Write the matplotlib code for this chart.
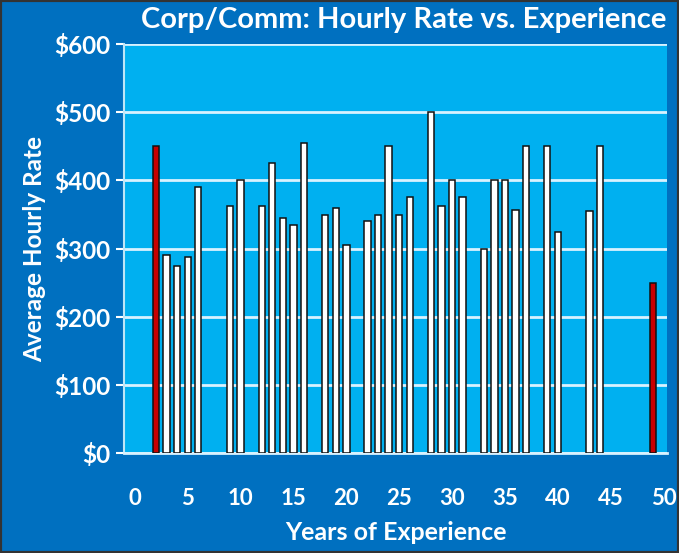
import matplotlib
matplotlib.use("Agg")
import matplotlib.pyplot as plt
from matplotlib.patches import Rectangle
from matplotlib.ticker import FuncFormatter

# Data
years = [3, 4, 5, 6, 9, 10, 12, 13, 14, 15, 16, 18, 19, 20, 22, 23, 24, 25, 26,
         28, 29, 30, 31, 33, 34, 35, 36, 37, 39, 40, 43, 44]
rates = [290, 275, 287, 390, 362, 400, 362, 425, 345, 335, 455, 350, 360, 305,
         340, 350, 450, 350, 375, 500, 362, 400, 375, 300, 400, 400, 357, 450,
         450, 325, 355, 450]
red_years = [2, 49]
red_rates = [450, 250]

x_ticks = list(range(0, 51, 5))
y_ticks = list(range(0, 601, 100))

plt.rcParams['font.family'] = ['Lato', 'DejaVu Sans']

fig = plt.figure(figsize=(6.79, 5.53), dpi=100)
fig.patch.set_facecolor('#0070C0')
fig.patches.append(Rectangle((0, 0), 1, 1, transform=fig.transFigure,
                             fill=False, edgecolor='#333333', linewidth=3))

ax = fig.add_axes([0.183, 0.181, 0.799, 0.739])
ax.set_facecolor('#00B0F0')

ax.bar(years, rates, width=0.6, color='white', edgecolor='#111111',
       linewidth=1.1, zorder=3)
ax.bar(red_years, red_rates, width=0.6, color='#C80000', edgecolor='#111111',
       linewidth=1.1, zorder=3)

ax.set_xlim(-1.0, 50.3)
ax.set_ylim(0, 600)
ax.set_xticks(x_ticks)
ax.set_yticks(y_ticks)
ax.yaxis.set_major_formatter(FuncFormatter(lambda v, p: f'${int(v)}'))

ax.grid(axis='y', color='#D8F2FF', linewidth=2, zorder=1)
ax.set_axisbelow(True)

for s in ['top', 'right']:
    ax.spines[s].set_visible(False)
ax.spines['left'].set_color('#BFE6F7')
ax.spines['left'].set_linewidth(1.5)
ax.spines['bottom'].set_color('#D8F2FF')
ax.spines['bottom'].set_linewidth(2)

ax.tick_params(axis='y', colors='white', labelsize=17.5, length=6, width=1.5,
               direction='out', pad=4)
ax.tick_params(axis='x', colors='white', labelsize=16, length=0, pad=25)
for lbl in ax.get_xticklabels() + ax.get_yticklabels():
    lbl.set_fontweight('bold')

ax.set_xlabel('Years of Experience', color='white', fontsize=18,
              fontweight='bold', labelpad=9)
ax.set_ylabel('Average Hourly Rate', color='white', fontsize=17.5,
              fontweight='bold', labelpad=6)
fig.text(0.595, 0.963, 'Corp/Comm: Hourly Rate vs. Experience', color='white',
         fontsize=21, fontweight='bold', ha='center', va='center')

fig.savefig('out.png', dpi=100, facecolor=fig.get_facecolor())
